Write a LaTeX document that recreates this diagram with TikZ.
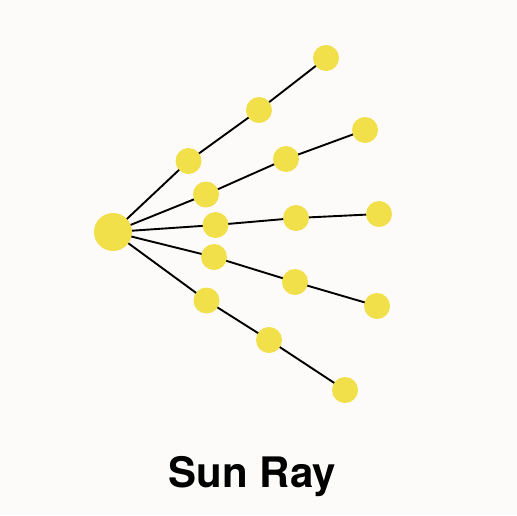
\documentclass[tikz,border=0pt]{standalone}
\usepackage{fontspec}
\setmainfont{TeX Gyre Heros}
\definecolor{bg}{HTML}{FCFBF9}
\definecolor{sun}{HTML}{F2E04A}
\begin{document}
\begin{tikzpicture}[x=1pt,y=-1pt,
  ray/.style={draw=black,line width=1.9pt},
  dot/.style={circle,fill=sun,minimum size=26pt,inner sep=0pt},
  hub/.style={circle,fill=sun,minimum size=38pt,inner sep=0pt}]
\fill[bg] (0,0) rectangle (517,515);
\useasboundingbox (0,0) rectangle (517,515);
\coordinate (c) at (113,232);
\coordinate (a1) at (188.5,161); \coordinate (a2) at (259,110); \coordinate (a3) at (326,58);
\coordinate (b1) at (206,194.5); \coordinate (b2) at (286,159); \coordinate (b3) at (365,130);
\coordinate (d1) at (215.5,225); \coordinate (d2) at (296,218); \coordinate (d3) at (379,214);
\coordinate (e1) at (214,257); \coordinate (e2) at (295,282); \coordinate (e3) at (377,306);
\coordinate (f1) at (206.5,300.5); \coordinate (f2) at (269,340); \coordinate (f3) at (345,390);
\foreach \r in {a,b,d,e,f}{
  \draw[ray] (c) -- (\r1) -- (\r2) -- (\r3);
}
\node[hub] (hubnode) at (c) {};
\foreach \r in {a,b,d,e,f}{
  \foreach \i in {1,2,3}{
    \node[dot] (n\r\i) at (\r\i) {};
  }
}
\node[anchor=base,font=\fontsize{42}{48}\selectfont\bfseries] (title) at (252.5,487) {Sun Ray};
\end{tikzpicture}
\end{document}
